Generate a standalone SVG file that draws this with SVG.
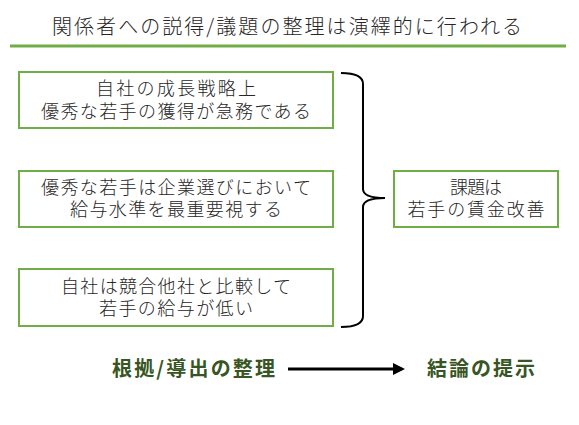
<svg xmlns="http://www.w3.org/2000/svg" width="579" height="425" viewBox="0 0 579 425">
<style>
text{font-family:"Noto Sans CJK JP","Noto Sans",sans-serif;}
.t{font-size:18px;fill:#262626;text-anchor:middle;font-weight:300;}
.box{fill:#fff;stroke:#70AD47;stroke-width:2;}
.b{font-size:20px;font-weight:bold;fill:#375623;}
</style>
<defs>
<marker id="ah" markerWidth="4" markerHeight="4" refX="3" refY="2" orient="auto" markerUnits="strokeWidth"><path d="M0,0 L4,2 L0,4 Z" fill="#000"/></marker>
</defs>
<rect width="579" height="425" fill="#fff"/>
<text x="52" y="34" textLength="470" lengthAdjust="spacing" style="font-size:20px;fill:#262626;font-weight:300">関係者への説得/議題の整理は演繹的に行われる</text>
<rect x="10" y="44.5" width="556" height="3" fill="#70AD47"/>
<g id="n1"><rect class="box" x="19" y="72" width="314" height="56"/>
<text class="t" x="176" y="95" textLength="160" lengthAdjust="spacing">自社の成長戦略上</text>
<text class="t" x="176" y="118" textLength="270" lengthAdjust="spacing">優秀な若手の獲得が急務である</text></g>
<g id="n2"><rect class="box" x="19" y="171" width="314" height="56"/>
<text class="t" x="176" y="194" textLength="270" lengthAdjust="spacing">優秀な若手は企業選びにおいて</text>
<text class="t" x="176" y="216" textLength="212" lengthAdjust="spacing">給与水準を最重要視する</text></g>
<g id="n3"><rect class="box" x="19" y="269" width="314" height="57"/>
<text class="t" x="176" y="293" textLength="230" lengthAdjust="spacing">自社は競合他社と比較して</text>
<text class="t" x="176" y="315" textLength="154" lengthAdjust="spacing">若手の給与が低い</text></g>
<g id="n4"><rect class="box" x="394" y="171" width="164" height="56"/>
<text class="t" x="476" y="194" textLength="52" lengthAdjust="spacing">課題は</text>
<text class="t" x="476" y="216" textLength="137" lengthAdjust="spacing">若手の賃金改善</text></g>
<g id="connectors">
<path d="M341,73 Q363,73 363,84 L363,189 Q363,198 385,198 Q363,198 363,207 L363,316 Q363,327 341,327" fill="none" stroke="#000" stroke-width="2"/>
<line x1="288" y1="369" x2="402" y2="369" stroke="#000" stroke-width="3" marker-end="url(#ah)"/>
</g>
<g id="labels">
<text class="b" x="112" y="376" textLength="163" lengthAdjust="spacing">根拠/導出の整理</text>
<text class="b" x="427" y="376" textLength="108" lengthAdjust="spacing">結論の提示</text>
</g>
</svg>
